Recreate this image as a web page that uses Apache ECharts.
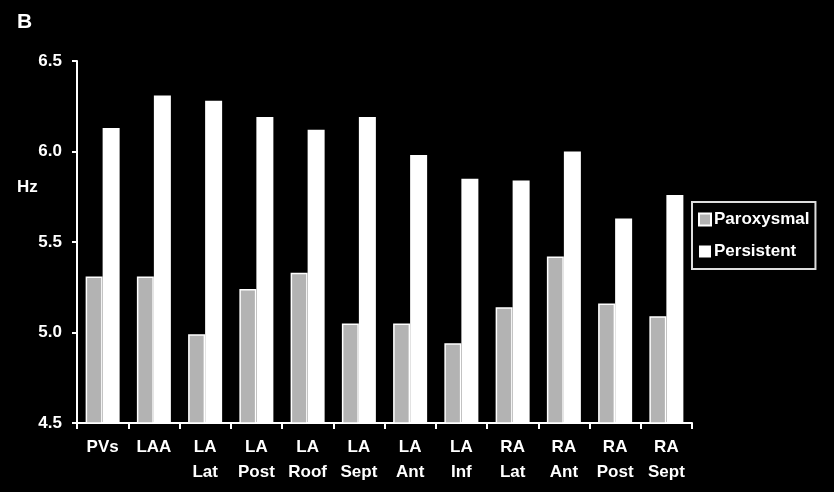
<!DOCTYPE html>
<html>
<head>
<meta charset="utf-8">
<script src="https://cdn.jsdelivr.net/npm/echarts@6/dist/echarts.min.js"></script>
<style>
html,body{margin:0;padding:0;background:#000;}
#chart{width:834px;height:492px;}
</style>
</head>
<body>
<div id="chart"></div>
<script>
const categories = ['PVs','LAA','LA\nLat','LA\nPost','LA\nRoof','LA\nSept','LA\nAnt','LA\nInf','RA\nLat','RA\nAnt','RA\nPost','RA\nSept'];
const paroxysmal = [5.31,5.31,4.99,5.24,5.33,5.05,5.05,4.94,5.14,5.42,5.16,5.09];
const persistent = [6.13,6.31,6.28,6.19,6.12,6.19,5.98,5.85,5.84,6.00,5.63,5.76];
const yTicks = [4.5,5.0,5.5,6.0,6.5];

const font = 'Liberation Sans, Arial, sans-serif';
const chart = echarts.init(document.getElementById('chart'));
chart.setOption({
  backgroundColor: '#000',
  animation: false,
  grid: {left: 77, right: 142, top: 61, bottom: 69},
  graphic: [
    {type:'text', left: 17, top: 12, style:{text:'B', fill:'#fff', font:'bold 21px ' + font}},
    {type:'text', left: 17, top: 179, style:{text:'Hz', fill:'#fff', font:'bold 17px ' + font}}
  ],
  legend: {
    orient: 'vertical',
    left: 692, top: 202,
    padding: [9, 6, 9, 6],
    itemGap: 15,
    itemWidth: 12, itemHeight: 12,
    borderColor: '#ddd', borderWidth: 2,
    icon: 'rect',
    textStyle: {color:'#fff', fontFamily: font, fontWeight:'bold', fontSize: 17, padding:[0,0,0,-2]},
    data: ['Paroxysmal','Persistent']
  },
  xAxis: {
    type: 'category',
    data: categories,
    axisLine: {lineStyle: {color:'#fff', width: 2}},
    axisTick: {show: true, length: 6, lineStyle: {color:'#fff', width: 2}},
    axisLabel: {color:'#fff', fontFamily: font, fontWeight:'bold', fontSize: 17, lineHeight: 25, margin: 12, interval: 0}
  },
  yAxis: {
    type: 'value',
    min: yTicks[0], max: yTicks[yTicks.length-1], interval: 0.5,
    splitLine: {show: false},
    axisLine: {show: true, lineStyle: {color:'#fff', width: 2}},
    axisTick: {show: true, length: 5, lineStyle: {color:'#fff', width: 2}},
    axisLabel: {color:'#fff', fontFamily: font, fontWeight:'bold', fontSize: 17, margin: 15, formatter: v => v.toFixed(1)}
  },
  series: [
    {name:'Paroxysmal', type:'bar', data: paroxysmal, barWidth: 17, barGap: '0%',
     itemStyle:{color:'#b3b3b3', borderColor:'#fff', borderWidth:1.5}},
    {name:'Persistent', type:'bar', data: persistent, barWidth: 17,
     itemStyle:{color:'#fff'}}
  ]
});
</script>
</body>
</html>
